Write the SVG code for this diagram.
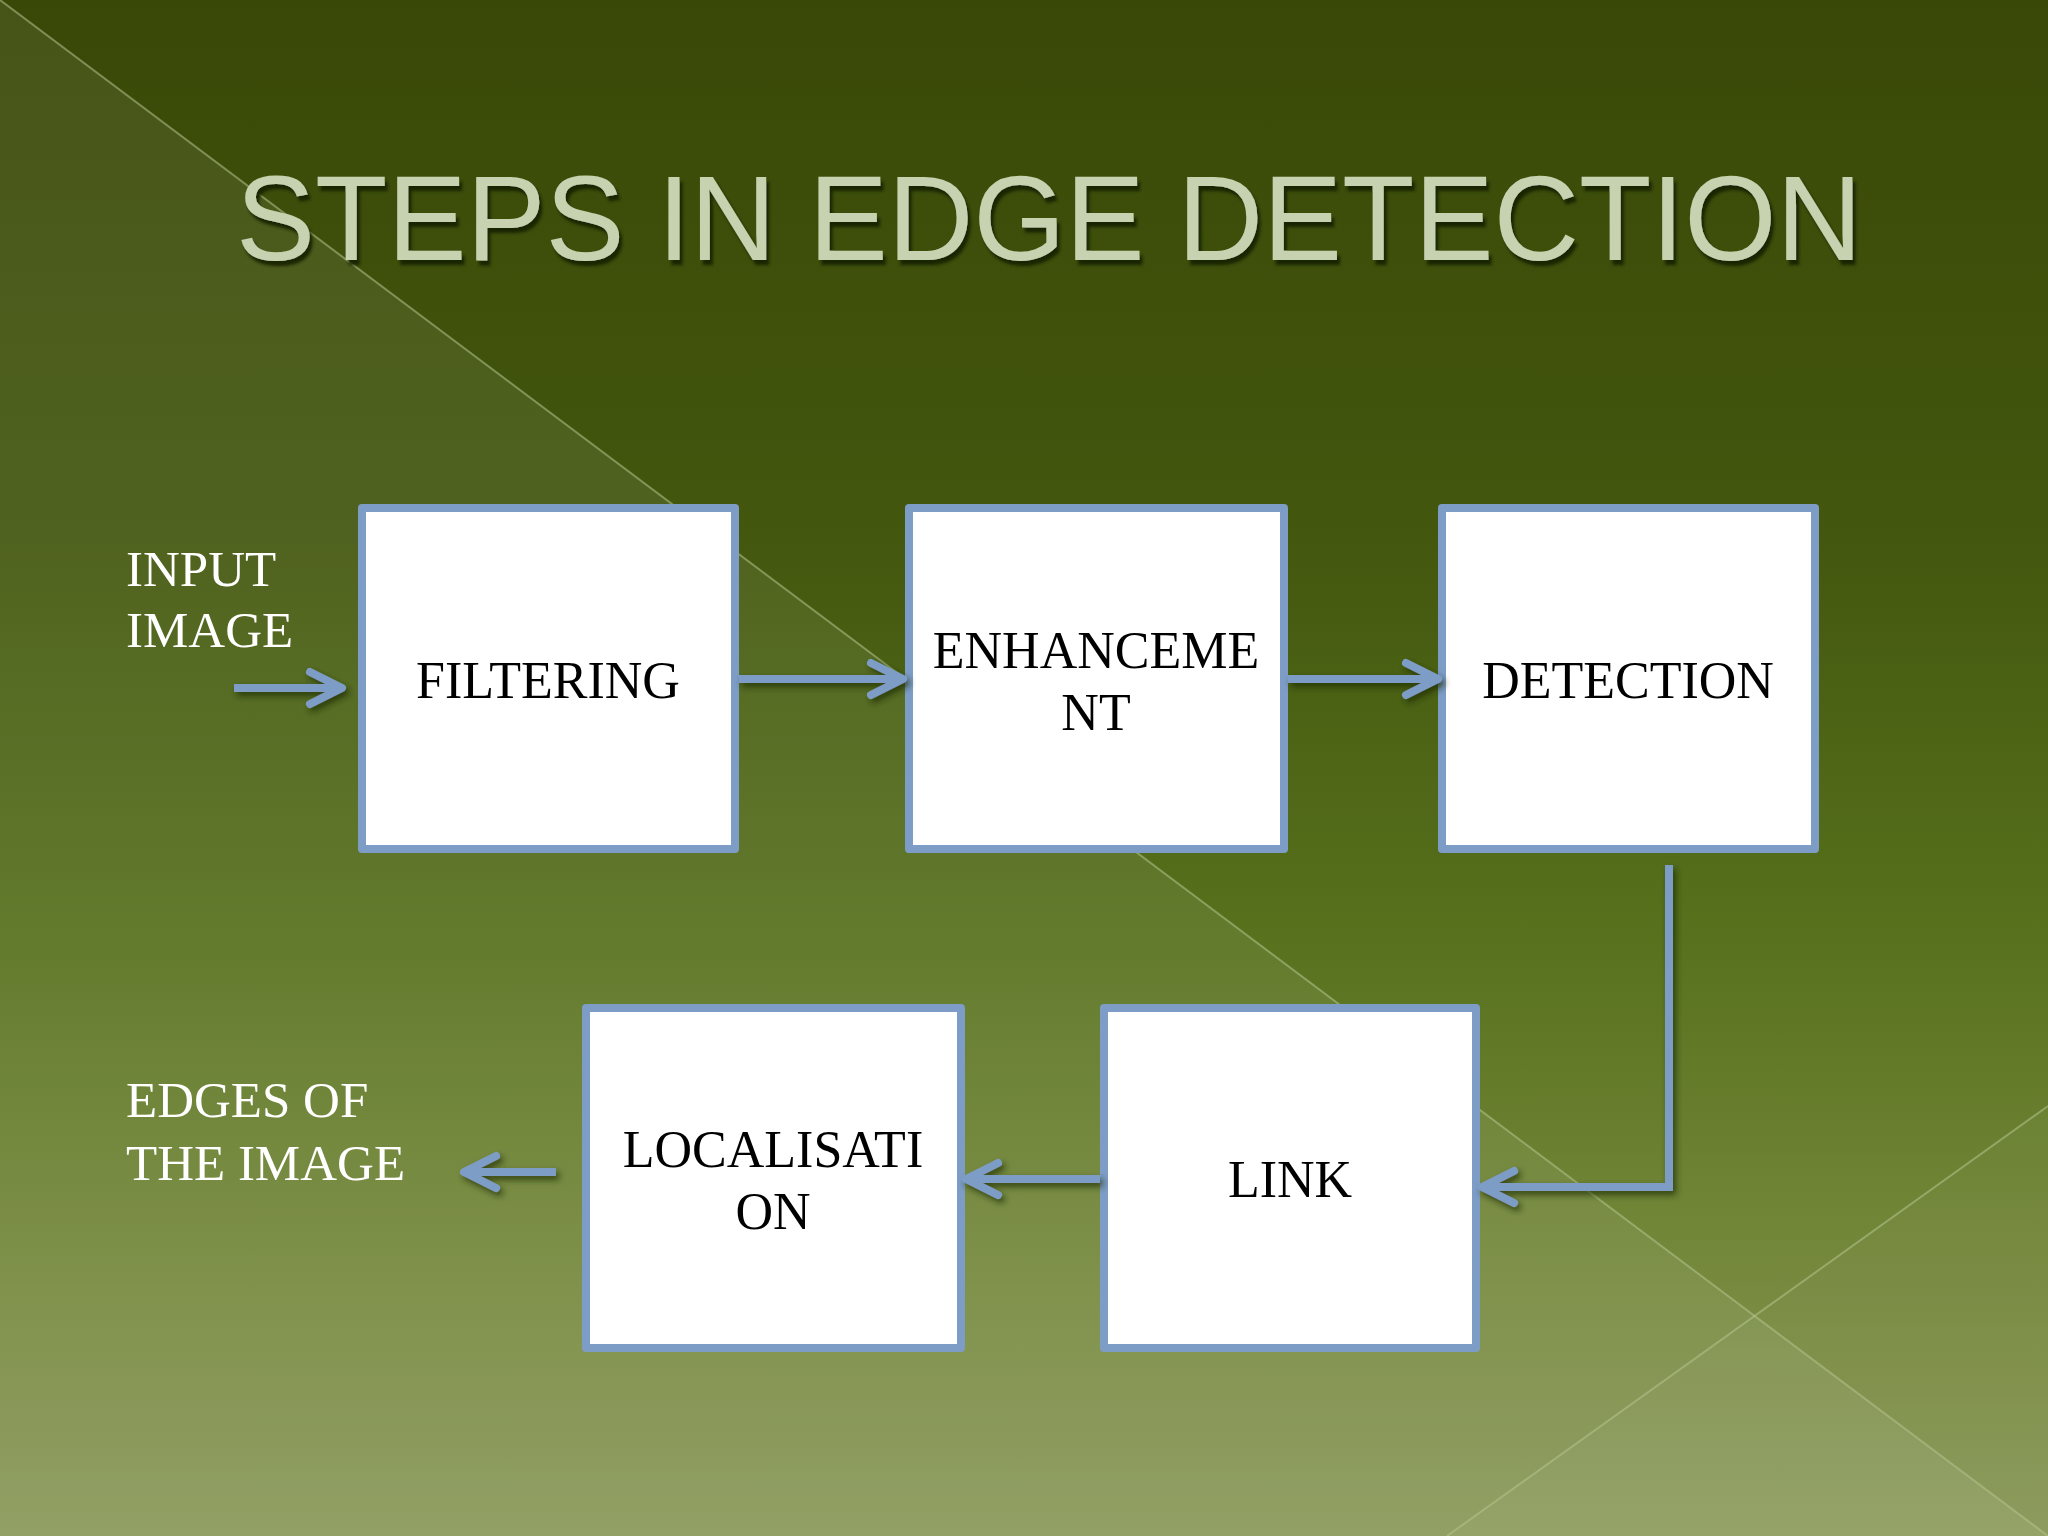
<svg xmlns="http://www.w3.org/2000/svg" width="2048" height="1536" viewBox="0 0 2048 1536">
<defs>
<linearGradient id="bg" x1="0" y1="0" x2="0" y2="1">
<stop offset="0" stop-color="#394807"/>
<stop offset="0.35" stop-color="#43570e"/>
<stop offset="0.6" stop-color="#56701c"/>
<stop offset="0.8" stop-color="#728638"/>
<stop offset="1" stop-color="#8a995a"/>
</linearGradient>
<filter id="sh" x="-20%" y="-20%" width="140%" height="140%">
<feDropShadow dx="3" dy="4" stdDeviation="3" flood-color="#1c2600" flood-opacity="0.7"/>
</filter>
<filter id="tsh" x="-5%" y="-20%" width="110%" height="140%">
<feDropShadow dx="3" dy="5" stdDeviation="1.5" flood-color="#172000" flood-opacity="0.95"/>
</filter>
<marker id="ah" viewBox="-40 -22 46 44" markerWidth="46" markerHeight="44" refX="0" refY="0" orient="auto" markerUnits="userSpaceOnUse">
<path d="M-32,-16 L0,0 L-32,16" fill="none" stroke="#7d9dc6" stroke-width="8" stroke-linecap="round" stroke-linejoin="round"/>
</marker>
</defs>
<style>
.box{fill:#ffffff;stroke:#7d9dc6;stroke-width:8;stroke-linejoin:round}
.lbl{font-family:"Liberation Serif","Times New Roman",serif;font-size:52px;fill:#000000;text-anchor:middle}
.side{font-family:"Liberation Serif","Times New Roman",serif;font-size:51px;fill:#ffffff}
.con{fill:none;stroke:#7d9dc6;stroke-width:8;marker-end:url(#ah)}
</style>
<rect x="0" y="0" width="2048" height="1536" fill="url(#bg)"/>
<polygon points="0,0 2048,1536 0,1536" fill="#ffffff" fill-opacity="0.07"/>
<polygon points="1447,1536 2048,1106 2048,1536" fill="#ffffff" fill-opacity="0.03"/>
<line x1="0" y1="0" x2="2048" y2="1536" stroke="#b4c48e" stroke-opacity="0.55" stroke-width="2"/>
<line x1="1447" y1="1536" x2="2048" y2="1106" stroke="#b4c48e" stroke-opacity="0.55" stroke-width="2"/>
<text x="236" y="260" font-family="'Liberation Sans',Arial,sans-serif" font-size="121" fill="#c6d2b0" textLength="1626" lengthAdjust="spacingAndGlyphs" filter="url(#tsh)">STEPS IN EDGE DETECTION</text>
<g id="input-label">
<text class="side" x="126" y="586">INPUT</text>
<text class="side" x="126" y="647">IMAGE</text>
</g>
<g id="output-label">
<text class="side" x="126" y="1117">EDGES OF</text>
<text class="side" x="126" y="1180">THE IMAGE</text>
</g>
<g id="filtering">
<rect class="box" x="362" y="508" width="373" height="341"/>
<text class="lbl" x="548" y="698">FILTERING</text>
</g>
<g id="enhancement">
<rect class="box" x="909" y="508" width="375" height="341"/>
<text class="lbl" x="1096" y="668">ENHANCEME</text>
<text class="lbl" x="1096" y="730">NT</text>
</g>
<g id="detection">
<rect class="box" x="1442" y="508" width="373" height="341"/>
<text class="lbl" x="1628" y="698">DETECTION</text>
</g>
<g id="link">
<rect class="box" x="1104" y="1008" width="372" height="340"/>
<text class="lbl" x="1290" y="1197">LINK</text>
</g>
<g id="localisation">
<rect class="box" x="586" y="1008" width="375" height="340"/>
<text class="lbl" x="773" y="1167">LOCALISATI</text>
<text class="lbl" x="773" y="1229">ON</text>
</g>
<g id="connectors" filter="url(#sh)">
<path class="con" d="M234,688 H342"/>
<path class="con" d="M739,679 H903"/>
<path class="con" d="M1288,679 H1438"/>
<path class="con" d="M1669,865 V1187 H1482"/>
<path class="con" d="M1100,1179 H966"/>
<path class="con" d="M556,1172 H464"/>
</g>
</svg>
